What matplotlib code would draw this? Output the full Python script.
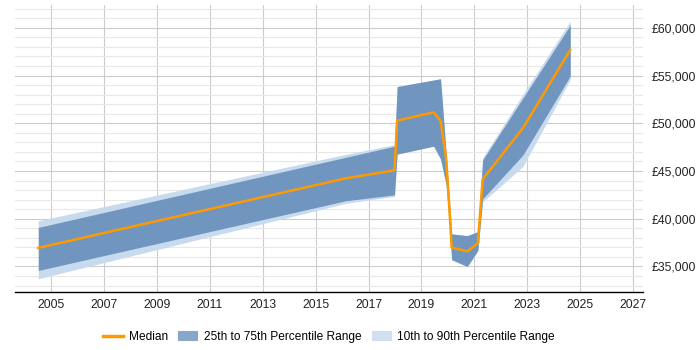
import matplotlib
matplotlib.use("Agg")
import matplotlib.pyplot as plt
from matplotlib.ticker import MultipleLocator, FuncFormatter
from matplotlib.patches import Patch
from matplotlib.lines import Line2D

plt.rcParams['font.family'] = ['Liberation Sans', 'DejaVu Sans']

# dates as decimal years
dates = [2004.52, 2016.13, 2017.98, 2018.08, 2019.46, 2019.72, 2019.93,
         2020.06, 2020.14, 2020.73, 2021.13, 2021.31, 2022.83, 2024.62]
median = [36950, 44230, 45070, 50280, 51150, 50260, 46390,
          40830, 36980, 36590, 37430, 44140, 49480, 57680]
p25 = [34580, 41880, 42500, 46770, 47600, 46250, 43610,
       39090, 35730, 35000, 36670, 42080, 46670, 54950]
p75 = [39090, 46430, 47600, 53850, 54530, 54660, 46880,
       41560, 38410, 38230, 38650, 46150, 52630, 60280]
p10 = [33720, 41610, 42340, 46770, 47600, 46250, 43440,
       38960, 35630, 35000, 36670, 41770, 45470, 54580]
p90 = [39790, 46740, 47760, 53850, 54530, 54690, 47080,
       41880, 38440, 38230, 38650, 46390, 53020, 60700]
year_ticks = list(range(2005, 2028, 2))

col_med = '#ff9900'
col_iqr = '#7096bf'
col_dec = '#c8daee'

fig = plt.figure(figsize=(7, 3.5), dpi=100)
ax = fig.add_axes([0.0214, 0.165, 0.8972, 0.821])

ax.fill_between(dates, p10, p90, color=col_dec, linewidth=0, zorder=2)
ax.fill_between(dates, p25, p75, color=col_iqr, linewidth=0, zorder=3)
ax.plot(dates, median, color=col_med, linewidth=1.8, zorder=4)

ax.set_xlim(2003.64, 2027.37)
ax.set_ylim(32300, 62400)

ax.set_xticks(year_ticks)
ax.xaxis.set_major_formatter(FuncFormatter(lambda v, p: "%d" % v))
ax.yaxis.set_major_locator(MultipleLocator(5000))
ax.yaxis.set_minor_locator(MultipleLocator(1000))
ax.yaxis.set_major_formatter(FuncFormatter(lambda v, p: "£{:,.0f}".format(v)))
ax.yaxis.tick_right()

ax.grid(which='major', axis='both', color='#cccccc', linewidth=0.8, zorder=0)
ax.grid(which='minor', axis='y', color='#e8e8e8', linewidth=0.8, zorder=0)
ax.set_axisbelow(True)

for s in ['top', 'left', 'right']:
    ax.spines[s].set_visible(False)
ax.spines['bottom'].set_color('black')
ax.spines['bottom'].set_linewidth(1.0)

ax.tick_params(axis='both', which='both', length=0, labelsize=8.7, colors='#222222')
ax.tick_params(axis='x', pad=5)
ax.tick_params(axis='y', pad=6)

# legend centred under the plot area
handles = [Line2D([0], [0], color=col_med, linewidth=2.5),
           Patch(facecolor='#88a6c8', edgecolor='none'),
           Patch(facecolor='#d0e0f0', edgecolor='none')]
labels = ["Median", "25th to 75th Percentile Range", "10th to 90th Percentile Range"]
fig.legend(handles, labels, loc='lower center', bbox_to_anchor=(0.47, -0.012), ncol=3,
           frameon=False, fontsize=8.6, handlelength=1.7, handleheight=0.95,
           columnspacing=0.85, handletextpad=0.45)

fig.savefig("out.png", dpi=100)
